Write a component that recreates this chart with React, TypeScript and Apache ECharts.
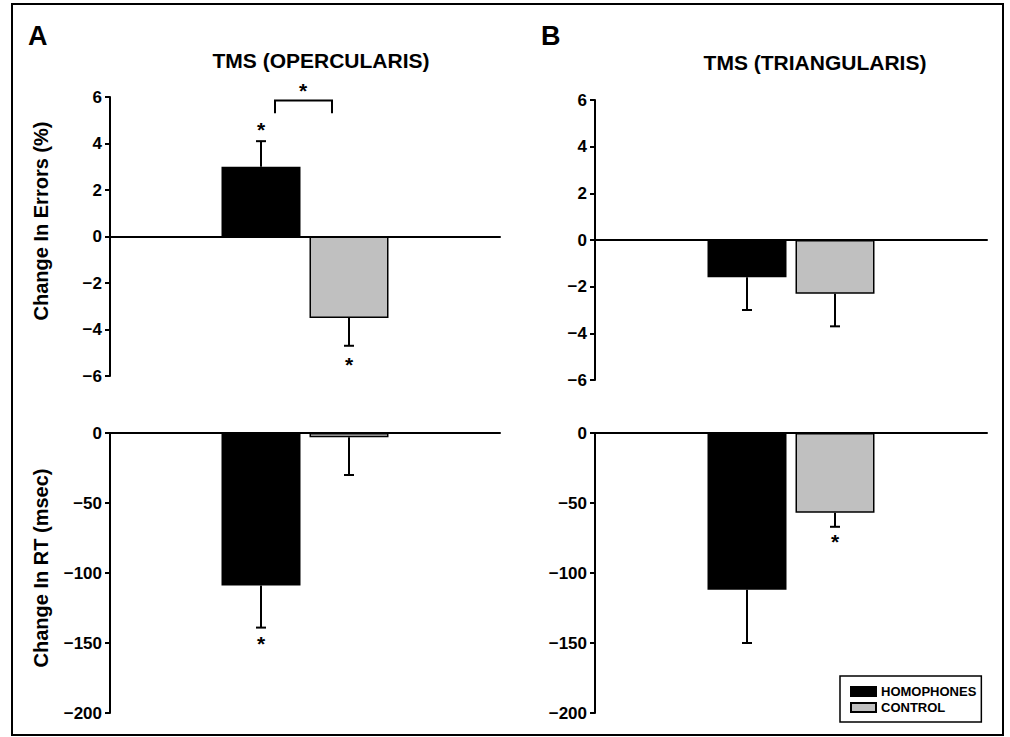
import React, { useEffect, useRef } from "react";
import * as echarts from "echarts";

// ---------- data ----------
const categories = ["TMS"];
const seriesNames = ["HOMOPHONES", "CONTROL"];
const panelTitles = ["TMS (OPERCULARIS)", "TMS (TRIANGULARIS)"];
const panelLetters = ["A", "B"];
const yNames = ["Change In Errors (%)", "Change In RT (msec)"];

// [homophones, control]
const errorsOpercularis = [3.0, -3.5];
const errorsOpercularisSem = [1.1, 1.2];
const errorsTriangularis = [-1.6, -2.3];
const errorsTriangularisSem = [1.4, 1.4];
const rtOpercularis = [-109, -3];
const rtOpercularisSem = [30, 27];
const rtTriangularis = [-112, -57];
const rtTriangularisSem = [38, 10];

// significance stars: [series index, value]
const starsErrorsOpercularis = [[0, 4.7], [1, -5.4]];
const starsErrorsTriangularis: number[][] = [];
const starsRtOpercularis = [[0, -149]];
const starsRtTriangularis = [[1, -76]];
// bracket between bars: [leg bottom, bracket top, star]
const bracketErrorsOpercularis = [5.3, 5.85, 6.35];

const errorsTicks = { min: -6, max: 6, interval: 2 };
const rtTicks = { min: -200, max: 0, interval: 50 };

// ---------- styles ----------
const FONT = "'Liberation Sans', Arial, sans-serif";
const BAR_W = 79;
const BAR_GAP = 9;
const OFFSET = (BAR_W + BAR_GAP) / 2;
const COLORS = ["#000000", "#c0c0c0"];

const grids = [
  { left: 110, top: 97, width: 390, height: 279 },
  { left: 110, top: 433, width: 390, height: 280 },
  { left: 595, top: 100, width: 392, height: 280 },
  { left: 595, top: 433, width: 392, height: 280 },
];

const minusFmt = (v: number) => String(v).replace("-", "\u2212");

export default function App() {
  const ref = useRef<HTMLDivElement>(null);
  useEffect(() => {
    if (!ref.current) return;
    const chart = echarts.init(ref.current, undefined, { renderer: "svg" });

    const panels = [
      { vals: errorsOpercularis, sem: errorsOpercularisSem, stars: starsErrorsOpercularis, ticks: errorsTicks, bracket: bracketErrorsOpercularis },
      { vals: rtOpercularis, sem: rtOpercularisSem, stars: starsRtOpercularis, ticks: rtTicks, bracket: null },
      { vals: errorsTriangularis, sem: errorsTriangularisSem, stars: starsErrorsTriangularis, ticks: errorsTicks, bracket: null },
      { vals: rtTriangularis, sem: rtTriangularisSem, stars: starsRtTriangularis, ticks: rtTicks, bracket: null },
    ];

    const xAxis = panels.map((_, i) => ({
      type: "category",
      gridIndex: i,
      data: categories,
      axisLine: { show: true, onZero: true, lineStyle: { color: "#000", width: 2 } },
      axisTick: { show: false },
      axisLabel: { show: false },
      splitLine: { show: false },
    }));

    const yAxis = panels.map((p, i) => ({
      type: "value",
      gridIndex: i,
      min: p.ticks.min,
      max: p.ticks.max,
      interval: p.ticks.interval,
      axisLine: { show: true, lineStyle: { color: "#000", width: 2 } },
      axisTick: { show: true, length: 5, lineStyle: { color: "#000", width: 2 } },
      axisLabel: {
        margin: 8,
        color: "#000",
        fontFamily: FONT,
        fontWeight: "bold",
        fontSize: 17,
        formatter: minusFmt,
      },
      splitLine: { show: false },
    }));

    const starStyle = { text: "*", fill: "#000", font: `bold 21px ${FONT}`, align: "center", verticalAlign: "middle" };
    const STAR_DY = 2;

    const series: any[] = [];
    panels.forEach((p, i) => {
      seriesNames.forEach((name, s) => {
        series.push({
          type: "bar",
          name,
          xAxisIndex: i,
          yAxisIndex: i,
          data: [p.vals[s]],
          barWidth: BAR_W,
          barGap: `${(BAR_GAP / BAR_W) * 100}%`,
          itemStyle: { color: COLORS[s], borderColor: "#000", borderWidth: 1.5 },
          silent: true,
        });
      });
      // error bars
      series.push({
        type: "custom",
        xAxisIndex: i,
        yAxisIndex: i,
        silent: true,
        data: p.vals.map((v, s) => [0, s, v, p.sem[s]]),
        encode: { x: 0, y: 2 },
        renderItem: (params: any, api: any) => {
          const cat = api.value(0);
          const s = api.value(1);
          const v = api.value(2);
          const e = api.value(3);
          const base = api.coord([cat, v]);
          const end = api.coord([cat, v + (v >= 0 ? e : -e)]);
          const x = base[0] + (s === 0 ? -OFFSET : OFFSET);
          return {
            type: "group",
            children: [
              { type: "line", shape: { x1: x, y1: base[1], x2: x, y2: end[1] }, style: { stroke: "#000", lineWidth: 2 } },
              { type: "line", shape: { x1: x - 5, y1: end[1], x2: x + 5, y2: end[1] }, style: { stroke: "#000", lineWidth: 2 } },
            ],
          };
        },
      });
      // stars
      if (p.stars.length) {
        series.push({
          type: "custom",
          xAxisIndex: i,
          yAxisIndex: i,
          silent: true,
          data: p.stars.map((st) => [0, st[0], st[1]]),
          encode: { x: 0, y: 2 },
          renderItem: (params: any, api: any) => {
            const pt = api.coord([api.value(0), api.value(2)]);
            const x = pt[0] + (api.value(1) === 0 ? -OFFSET : OFFSET);
            return { type: "text", x, y: pt[1] + STAR_DY, style: starStyle };
          },
        });
      }
      if (p.bracket) {
        series.push({
          type: "custom",
          xAxisIndex: i,
          yAxisIndex: i,
          silent: true,
          data: [[0, p.bracket[0], p.bracket[1], p.bracket[2]]],
          encode: { x: 0, y: 2 },
          renderItem: (params: any, api: any) => {
            const lo = api.coord([api.value(0), api.value(1)]);
            const hi = api.coord([api.value(0), api.value(2)]);
            const st = api.coord([api.value(0), api.value(3)]);
            const cx = lo[0];
            return {
              type: "group",
              children: [
                {
                  type: "polyline",
                  shape: { points: [[cx - 30, lo[1]], [cx - 30, hi[1]], [cx + 27, hi[1]], [cx + 27, lo[1]]] },
                  style: { stroke: "#000", lineWidth: 2, fill: "none" },
                },
                { type: "text", x: cx - 2, y: st[1] + STAR_DY, style: starStyle },
              ],
            };
          },
        });
      }
    });

    const textStyle = (text: string, size: number) => ({
      text,
      fill: "#000",
      font: `bold ${size}px ${FONT}`,
    });

    chart.setOption({
      animation: false,
      backgroundColor: "#fff",
      grid: grids.map((g) => ({ ...g, containLabel: false })),
      xAxis,
      yAxis,
      series,
      legend: {
        data: seriesNames,
        orient: "vertical",
        left: 840,
        top: 676,
        padding: [9, 5, 8, 10],
        itemGap: 3,
        itemWidth: 25,
        itemHeight: 9,
        borderColor: "#000",
        borderWidth: 1.5,
        icon: "rect",
        selectedMode: false,
        textStyle: { color: "#000", fontFamily: FONT, fontWeight: "bold", fontSize: 13 },
      },
      graphic: [
        { type: "rect", shape: { x: 12, y: 4, width: 991, height: 731 }, style: { fill: "none", stroke: "#000", lineWidth: 2 }, silent: true },
        { type: "text", x: 28, y: 22, style: { ...textStyle(panelLetters[0], 27) } },
        { type: "text", x: 541, y: 22, style: { ...textStyle(panelLetters[1], 27) } },
        { type: "text", x: 321, y: 60, style: { ...textStyle(panelTitles[0], 21), align: "center", verticalAlign: "middle" } },
        { type: "text", x: 815, y: 62, style: { ...textStyle(panelTitles[1], 21), align: "center", verticalAlign: "middle" } },
        { type: "text", x: 41, y: 221, rotation: Math.PI / 2, style: { ...textStyle(yNames[0], 20), align: "center", verticalAlign: "middle" } },
        { type: "text", x: 41, y: 568, rotation: Math.PI / 2, style: { ...textStyle(yNames[1], 20), align: "center", verticalAlign: "middle" } },
      ],
    });
    return () => chart.dispose();
  }, []);
  return <div ref={ref} style={{ position: "absolute", left: 0, top: 0, width: 1010, height: 737 }} />;
}
